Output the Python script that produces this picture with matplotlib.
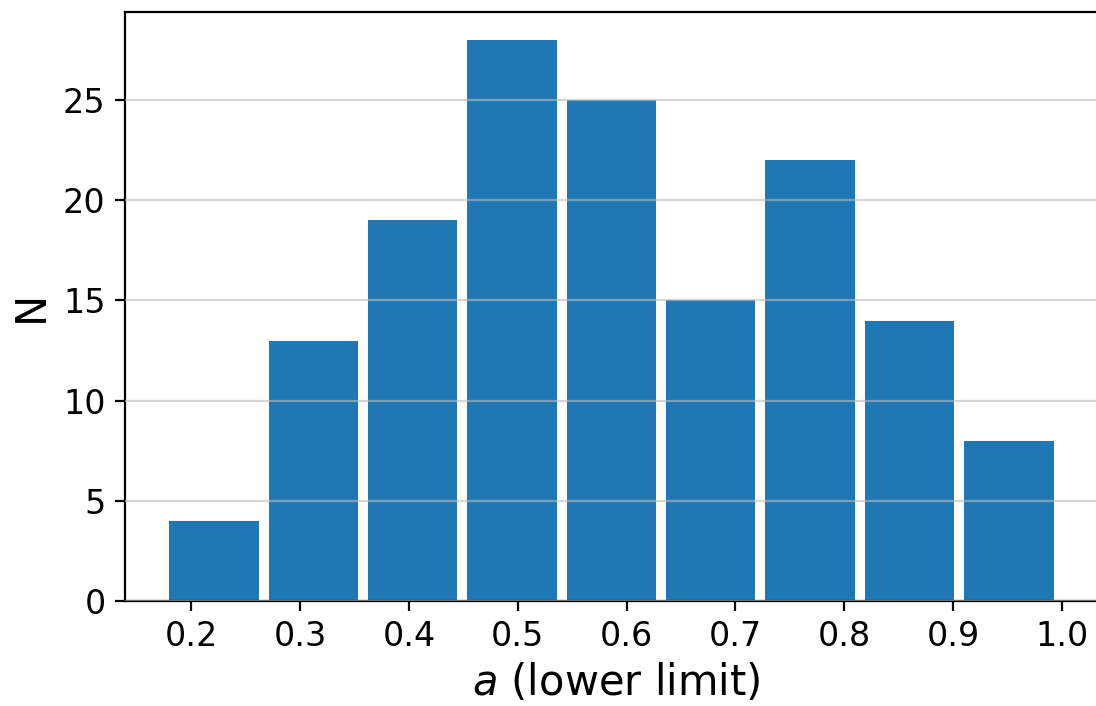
import numpy as np
import matplotlib
matplotlib.use("Agg")
import matplotlib.pyplot as plt

# Data
bin_edges = np.linspace(0.175, 0.997, 10)
counts = [4, 13, 19, 28, 25, 15, 22, 14, 8]
xticks = [0.2, 0.3, 0.4, 0.5, 0.6, 0.7, 0.8, 0.9, 1.0]
yticks = [0, 5, 10, 15, 20, 25]

W, H, DPI = 1096, 706, 200
fig = plt.figure(figsize=(W / DPI, H / DPI), dpi=DPI)
ax = fig.add_axes([125 / W, 105 / H, (1107 - 125) / W, (601 - 12) / H])

widths = np.diff(bin_edges)
centers = bin_edges[:-1] + widths / 2
ax.bar(centers, counts, width=widths * 0.9, color="#1f77b4", zorder=2)

ax.set_xlim(0.139, 1.0415)
ax.set_ylim(0, max(counts) * 1.05)
ax.set_xticks(xticks)
ax.set_xticklabels([f"{t:.1f}" for t in xticks])
ax.set_yticks(yticks)
ax.tick_params(labelsize=12)
ax.yaxis.grid(True, color="#bbbbbb", alpha=0.6, linewidth=0.8, zorder=3)
ax.set_axisbelow(False)
ax.spines["right"].set_visible(False)

ax.set_xlabel(r"$a$ (lower limit)", fontsize=15, labelpad=3)
ax.set_ylabel("N", fontsize=15)

fig.savefig("out.png", dpi=DPI)
